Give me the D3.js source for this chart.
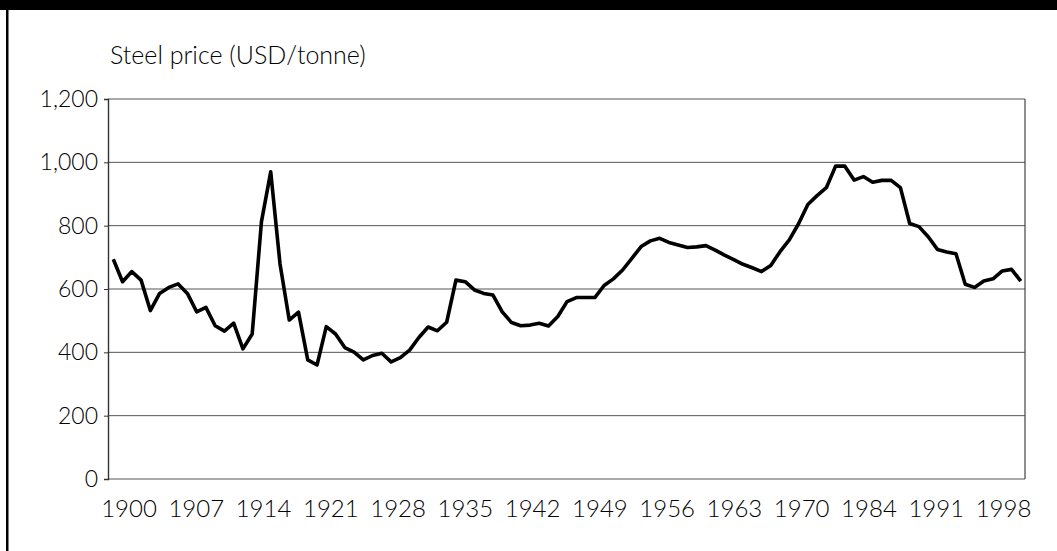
<!DOCTYPE html>
<html lang="en">
<head>
  <meta charset="UTF-8">
  <title>Steel price</title>
  <script src="https://d3js.org/d3.v7.min.js"></script>
  <style>
    body {
      margin: 0;
      padding: 0;
      background: #fff;
      overflow: hidden;
    }
    svg text {
      font-family: Lato, "Open Sans", sans-serif;
      font-weight: 300;
      fill: #000;
    }
    .grid line { stroke: #555; stroke-width: 1px; }
  </style>
</head>
<body>
  <svg id="chart" width="1057" height="551"></svg>

  <script>
    // —— data ——
    const firstYear = 1900;
    // yearly steel price, 1900–1998 (USD/tonne)
    const prices = [
      694, 623, 655, 628, 532, 586, 605, 616, 586, 528,
      542, 484, 467, 492, 411, 458, 813, 970, 680, 502,
      527, 376, 360, 481, 458, 415, 401, 376, 390, 397,
      370, 383, 407, 447, 480, 468, 495, 628, 623, 597,
      586, 581, 528, 494, 484, 486, 492, 483, 513, 560,
      573, 573, 573, 611, 632, 660, 697, 734, 752, 760,
      747, 739, 731, 733, 737, 723, 707, 693, 678, 667,
      655, 674, 718, 755, 806, 867, 895, 920, 988, 988,
      944, 955, 937, 943, 943, 920, 807, 797, 765, 725,
      717, 711, 615, 605, 625, 632, 657, 662, 625
    ];
    const years = prices.map((d, i) => firstYear + i);
    const yTicks = [0, 200, 400, 600, 800, 1000, 1200];
    const xLabels = ["1900", "1907", "1914", "1921", "1928", "1935", "1942",
                     "1949", "1956", "1963", "1970", "1984", "1991", "1998"];
    const yTitle = "Steel price (USD/tonne)";

    // —— layout ——
    const svg = d3.select("#chart");
    const plotL = 108, plotR = 1025, plotT = 99, plotB = 479;

    // page frame: black band on top, rule down the left side
    svg.append("rect").attr("x", 0).attr("y", 0).attr("width", 1057).attr("height", 10).attr("fill", "#000");
    svg.append("rect").attr("x", 6).attr("y", 0).attr("width", 2.5).attr("height", 551).attr("fill", "#000");

    const x = d3.scaleLinear().domain([1900, 1998]).range([113.3, 1020.8]);
    const y = d3.scaleLinear().domain([0, 1200]).range([plotB, plotT]);
    // category labels sit on their own evenly spaced positions
    const xl = d3.scalePoint().domain(xLabels).range([128.5, 1003]);

    // gridlines
    svg.append("g").attr("class", "grid")
      .selectAll("line").data(yTicks).join("line")
      .attr("x1", plotL).attr("x2", plotR)
      .attr("y1", d => y(d)).attr("y2", d => y(d));

    // right side of the plot frame
    svg.append("line").attr("x1", plotR).attr("x2", plotR).attr("y1", plotT).attr("y2", plotB)
      .attr("stroke", "#444").attr("stroke-width", 1.2);

    // y axis
    const yAxis = svg.append("g")
      .attr("transform", `translate(${plotL},0)`)
      .call(d3.axisLeft(y).tickValues(yTicks).tickFormat(d3.format(",")).tickSize(4).tickPadding(6));
    yAxis.select(".domain").attr("stroke", "#333").attr("stroke-width", 1.4);
    yAxis.selectAll(".tick line").attr("stroke", "#333");
    yAxis.selectAll("text").attr("font-size", 23).attr("fill", "#000").style("font-family", "Lato, sans-serif");

    // x labels
    const xAxis = svg.append("g")
      .attr("transform", `translate(0,${plotB})`)
      .call(d3.axisBottom(xl).tickSize(0).tickPadding(21));
    xAxis.select(".domain").remove();
    xAxis.selectAll("text").attr("font-size", 24).attr("fill", "#000").style("font-family", "Lato, sans-serif");

    // axis title
    svg.append("text")
      .attr("x", 110).attr("y", 64)
      .attr("font-size", 25)
      .text(yTitle);

    // price line
    const line = d3.line()
      .x((d, i) => x(years[i]))
      .y(d => y(d));

    svg.append("path")
      .datum(prices)
      .attr("fill", "none")
      .attr("stroke", "#000")
      .attr("stroke-width", 3.6)
      .attr("stroke-linejoin", "round")
      .attr("d", line);
  </script>
</body>
</html>
